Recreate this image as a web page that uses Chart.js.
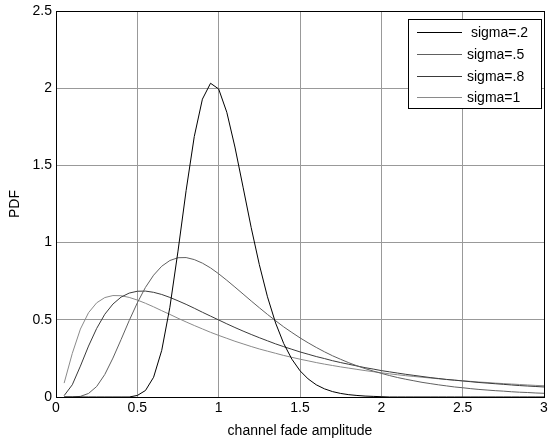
<!DOCTYPE html>
<html>
<head>
<meta charset="utf-8">
<script src="https://cdn.jsdelivr.net/npm/chart.js@4/dist/chart.umd.min.js"></script>
<style>
  html, body { margin: 0; padding: 0; background: #fff; }
  #wrap { width: 548px; height: 440px; }
</style>
</head>
<body>
<div id="wrap"><canvas id="pdfChart" width="548" height="440"></canvas></div>
<script>
// fade amplitude samples
const amplitude = [
  0.05, 0.10, 0.15, 0.20, 0.25, 0.30, 0.35, 0.40, 0.45, 0.50,
  0.55, 0.60, 0.65, 0.70, 0.75, 0.80, 0.85, 0.90, 0.95, 1.00,
  1.05, 1.10, 1.15, 1.20, 1.25, 1.30, 1.35, 1.40, 1.45, 1.50,
  1.55, 1.60, 1.65, 1.70, 1.75, 1.80, 1.85, 1.90, 1.95, 2.00,
  2.05, 2.10, 2.15, 2.20, 2.25, 2.30, 2.35, 2.40, 2.45, 2.50,
  2.55, 2.60, 2.65, 2.70, 2.75, 2.80, 2.85, 2.90, 2.95, 3.00
];

const sigma02 = [
  0, 0, 0, 0, 0, 0, 0, 0, 0, 0.010,
  0.042, 0.128, 0.302, 0.581, 0.945, 1.338, 1.687, 1.929, 2.032, 1.995,
  1.844, 1.619, 1.359, 1.097, 0.857, 0.649, 0.479, 0.346, 0.245, 0.170,
  0.117, 0.079, 0.053, 0.035, 0.023, 0.015, 0.010, 0.006, 0.004, 0.002,
  0, 0, 0, 0, 0, 0, 0, 0, 0, 0,
  0, 0, 0, 0, 0, 0, 0, 0, 0, 0
];

const sigma05 = [
  0, 0, 0.004, 0.023, 0.068, 0.146, 0.252, 0.372, 0.495, 0.610,
  0.710, 0.789, 0.847, 0.884, 0.902, 0.903, 0.890, 0.867, 0.836, 0.798,
  0.756, 0.712, 0.667, 0.622, 0.578, 0.535, 0.494, 0.454, 0.418, 0.383,
  0.351, 0.321, 0.293, 0.267, 0.244, 0.222, 0.202, 0.184, 0.168, 0.153,
  0.139, 0.126, 0.115, 0.105, 0.095, 0.087, 0.079, 0.072, 0.065, 0.060,
  0.054, 0.049, 0.045, 0.041, 0.038, 0.034, 0.031, 0.029, 0.026, 0.024
];

const sigma08 = [
  0.009, 0.079, 0.200, 0.330, 0.444, 0.536, 0.602, 0.647, 0.673, 0.685,
  0.686, 0.678, 0.664, 0.645, 0.623, 0.600, 0.575, 0.549, 0.524, 0.499,
  0.474, 0.450, 0.427, 0.405, 0.384, 0.364, 0.344, 0.326, 0.309, 0.292,
  0.277, 0.262, 0.249, 0.235, 0.223, 0.212, 0.201, 0.190, 0.181, 0.171,
  0.163, 0.155, 0.147, 0.140, 0.133, 0.126, 0.120, 0.114, 0.109, 0.104,
  0.099, 0.094, 0.090, 0.086, 0.082, 0.078, 0.074, 0.071, 0.068, 0.065
];

const sigma10 = [
  0.090, 0.282, 0.440, 0.546, 0.610, 0.644, 0.657, 0.656, 0.645, 0.628,
  0.607, 0.584, 0.559, 0.535, 0.510, 0.486, 0.463, 0.441, 0.419, 0.399,
  0.380, 0.361, 0.344, 0.327, 0.311, 0.297, 0.283, 0.269, 0.257, 0.245,
  0.234, 0.223, 0.213, 0.204, 0.195, 0.187, 0.179, 0.171, 0.164, 0.157,
  0.150, 0.144, 0.138, 0.133, 0.128, 0.123, 0.118, 0.113, 0.109, 0.105,
  0.101, 0.097, 0.094, 0.090, 0.087, 0.084, 0.081, 0.078, 0.075, 0.073
];

const seriesLabels = [" sigma=.2", "sigma=.5", "sigma=.8", "sigma=1"];
const seriesColors = ["#000000", "#606060", "#3a3a3a", "#8a8a8a"];
const xTicks = [0, 0.5, 1, 1.5, 2, 2.5, 3];
const yTicks = [0, 0.5, 1, 1.5, 2, 2.5];

const font = "Liberation Sans, Arial, sans-serif";

function toPoints(values) {
  return amplitude.map((x, i) => ({ x: x, y: values[i] }));
}

const allSeries = [sigma02, sigma05, sigma08, sigma10];

const data = {
  datasets: allSeries.map((vals, i) => ({
    label: seriesLabels[i],
    data: toPoints(vals),
    borderColor: seriesColors[i],
    borderWidth: 1,
    pointRadius: 0,
    tension: 0,
    fill: false,
  })),
};

// box around plot + matlab style legend
const frame = {
  id: "frame",
  afterDraw(chart) {
    const ctx = chart.ctx;
    const a = chart.chartArea;
    ctx.save();
    ctx.strokeStyle = "#000";
    ctx.lineWidth = 1;
    ctx.strokeRect(Math.round(a.left) + 0.5, Math.round(a.top) + 0.5,
      Math.round(a.right - a.left), Math.round(a.bottom - a.top));

    // legend box
    const lx = 408, ly = 19, lw = 133, lh = 89;
    ctx.fillStyle = "#fff";
    ctx.fillRect(lx, ly, lw, lh);
    ctx.strokeRect(lx + 0.5, ly + 0.5, lw, lh);
    ctx.font = "14px " + font;
    ctx.textBaseline = "middle";
    ctx.textAlign = "left";
    const rows = [32, 54, 76, 97];
    rows.forEach((y, i) => {
      ctx.strokeStyle = seriesColors[i];
      ctx.beginPath();
      ctx.moveTo(417, y + 0.5);
      ctx.lineTo(462, y + 0.5);
      ctx.stroke();
      ctx.fillStyle = "#000";
      ctx.fillText(seriesLabels[i], 467, y + 1);
    });
    ctx.restore();
  },
};

const myChart = new Chart(document.getElementById("pdfChart").getContext("2d"), {
  type: "line",
  data,
  plugins: [frame],
  options: {
    responsive: false,
    animation: { duration: 0 },
    layout: { padding: { top: 11, right: 4, left: 0, bottom: 0 } },
    plugins: {
      legend: { display: false },
      tooltip: { enabled: false },
    },
    scales: {
      x: {
        type: "linear",
        min: 0,
        max: 3,
        afterBuildTicks: (axis) => { axis.ticks = xTicks.map((v) => ({ value: v })); },
        afterFit: (axis) => {
          axis.height = 43;
          axis.paddingLeft = 0;
          axis.paddingRight = 0;
        },
        ticks: {
          color: "#000",
          font: { family: font, size: 14 },
          padding: 3,
          maxRotation: 0,
          callback: (v) => String(v),
        },
        grid: { color: "#999", lineWidth: 1, tickLength: 0 },
        border: { display: false },
        title: {
          display: true,
          text: "channel fade amplitude",
          color: "#000",
          font: { family: font, size: 14 },
          padding: { top: 1, bottom: 0 },
        },
      },
      y: {
        type: "linear",
        min: 0,
        max: 2.5,
        afterBuildTicks: (axis) => { axis.ticks = yTicks.map((v) => ({ value: v })); },
        afterFit: (axis) => {
          axis.width = 56;
          axis.paddingTop = 0;
          axis.paddingBottom = 0;
        },
        ticks: {
          color: "#000",
          font: { family: font, size: 14 },
          padding: 4,
          callback: (v) => String(v),
        },
        grid: { color: "#999", lineWidth: 1, tickLength: 0 },
        border: { display: false },
        title: {
          display: true,
          text: "PDF",
          color: "#000",
          font: { family: font, size: 14 },
          padding: { top: 7, bottom: 4 },
        },
      },
    },
  },
});

myChart.update();
</script>
</body>
</html>
